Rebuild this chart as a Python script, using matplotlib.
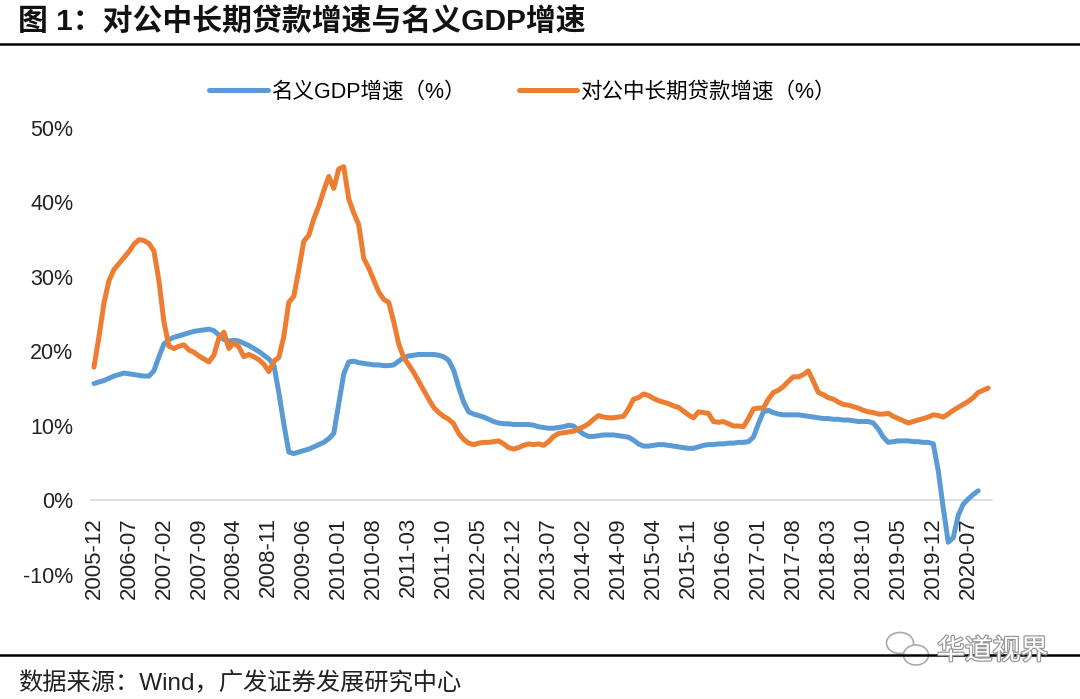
import numpy as np
import pandas as pd
import matplotlib
matplotlib.use("Agg")
import matplotlib.pyplot as plt
import matplotlib.patheffects as pe
from matplotlib.patches import Ellipse

plt.rcParams['font.family'] = ['Liberation Sans', 'Noto Sans CJK SC', 'DejaVu Sans']

# monthly, from 2005-12
months = pd.period_range('2005-12', '2020-11', freq='M').strftime('%Y-%m').tolist()

# 名义GDP增速 (%), 2005-12 .. 2020-09
gdp = [15.7, 15.9, 16.1, 16.4, 16.7, 16.9, 17.1, 17.0, 16.9, 16.8, 16.7, 16.7,
       17.4, 19.3, 21.0, 21.6, 21.9, 22.1, 22.3, 22.5, 22.7, 22.8, 22.9, 23.0,
       22.8, 22.2, 21.6, 21.4, 21.5, 21.4, 21.1, 20.8, 20.4, 20.0, 19.5, 19.0,
       18.2, 14.5, 10.3, 6.5, 6.3, 6.5, 6.7, 6.9, 7.2, 7.5, 7.8, 8.3,
       9.0, 13.0, 17.0, 18.6, 18.7, 18.5, 18.4, 18.3, 18.2, 18.2, 18.1, 18.1,
       18.2, 18.7, 19.2, 19.4, 19.5, 19.6, 19.6, 19.6, 19.6, 19.5, 19.3, 18.8,
       17.5, 15.2, 13.2, 11.9, 11.6, 11.4, 11.2, 10.9, 10.6, 10.4, 10.3, 10.3,
       10.2, 10.2, 10.2, 10.2, 10.1, 9.9, 9.8, 9.7, 9.7, 9.8, 9.9, 10.1,
       10.0, 9.4, 8.9, 8.6, 8.6, 8.7, 8.8, 8.8, 8.8, 8.7, 8.6, 8.5,
       8.1, 7.6, 7.3, 7.3, 7.4, 7.5, 7.5, 7.4, 7.3, 7.2, 7.1, 7.0,
       7.0, 7.2, 7.4, 7.5, 7.5, 7.6, 7.6, 7.7, 7.7, 7.8, 7.8, 7.9,
       8.5, 10.3, 11.9, 12.1, 11.8, 11.6, 11.5, 11.5, 11.5, 11.5, 11.4, 11.3,
       11.2, 11.1, 11.0, 11.0, 10.9, 10.9, 10.8, 10.8, 10.7, 10.6, 10.6, 10.6,
       10.4, 9.6, 8.5, 7.8, 7.9, 8.0, 8.0, 8.0, 7.9, 7.9, 7.8, 7.8,
       7.6, 4.0, -1.0, -5.6, -5.0, -2.0, -0.5, 0.2, 0.8, 1.3]

# 对公中长期贷款增速 (%), 2005-12 .. 2020-11
loan = [17.9, 22.0, 26.5, 29.5, 31.0, 31.8, 32.6, 33.4, 34.4, 35.0, 34.9, 34.5,
        33.5, 29.5, 24.0, 20.7, 20.4, 20.7, 20.9, 20.2, 19.9, 19.4, 19.0, 18.6,
        19.5, 21.8, 22.6, 20.4, 21.2, 20.6, 19.3, 19.6, 19.3, 18.9, 18.3, 17.3,
        18.7, 19.2, 22.0, 26.6, 27.4, 31.0, 34.8, 35.6, 37.8, 39.5, 41.6, 43.5,
        41.9, 44.5, 44.8, 40.5, 38.6, 37.0, 32.5, 31.2, 29.6, 28.0, 27.0, 26.6,
        24.0, 21.0, 19.2, 18.2, 17.2, 16.0, 14.8, 13.6, 12.5, 11.8, 11.3, 10.9,
        10.3, 9.0, 8.2, 7.7, 7.5, 7.7, 7.8, 7.8, 7.9, 8.0, 7.6, 7.1,
        6.9, 7.1, 7.4, 7.6, 7.5, 7.6, 7.4, 7.9, 8.6, 9.0, 9.1, 9.2,
        9.3, 9.6, 9.9, 10.3, 10.9, 11.4, 11.2, 11.1, 11.1, 11.2, 11.3, 12.3,
        13.6, 13.8, 14.3, 14.1, 13.7, 13.4, 13.2, 13.0, 12.7, 12.5, 12.0, 11.5,
        11.1, 11.9, 11.8, 11.7, 10.6, 10.5, 10.6, 10.3, 10.0, 10.0, 9.9, 11.0,
        12.3, 12.4, 12.4, 13.6, 14.5, 14.8, 15.3, 16.0, 16.6, 16.6, 16.9, 17.4,
        16.0, 14.5, 14.2, 13.8, 13.6, 13.2, 12.9, 12.8, 12.6, 12.4, 12.1, 11.9,
        11.8, 11.6, 11.6, 11.7, 11.3, 11.0, 10.7, 10.4, 10.6, 10.8, 11.0, 11.2,
        11.5, 11.4, 11.2, 11.6, 12.1, 12.5, 12.9, 13.3, 13.8, 14.5, 14.8, 15.1]

tick_labels = ['2005-12', '2006-07', '2007-02', '2007-09', '2008-04', '2008-11',
               '2009-06', '2010-01', '2010-08', '2011-03', '2011-10', '2012-05',
               '2012-12', '2013-07', '2014-02', '2014-09', '2015-04', '2015-11',
               '2016-06', '2017-01', '2017-08', '2018-03', '2018-10', '2019-05',
               '2019-12', '2020-07']
y_ticks = [-10, 0, 10, 20, 30, 40, 50]

blue = '#5B9BD5'
orange = '#ED7D31'

fig = plt.figure(figsize=(10.8, 6.99), dpi=100)
ax = fig.add_axes([0.0847, 0.1774, 0.834, 0.6395])

# axis line sits at 0, labels hang from it (set before ticks: it resets them)
for s in ['top', 'right', 'left']:
    ax.spines[s].set_visible(False)
ax.spines['bottom'].set_position(('data', 0))
ax.spines['bottom'].set_color('#D9D9D9')
ax.spines['bottom'].set_linewidth(1.2)
ax.spines['bottom'].set_zorder(1)

l1, = ax.plot(np.arange(len(gdp)), gdp, color=blue, lw=3.6, solid_capstyle='round',
              solid_joinstyle='round', label='名义GDP增速（%）', zorder=3)
l2, = ax.plot(np.arange(len(loan)), loan, color=orange, lw=3.6, solid_capstyle='round',
              solid_joinstyle='round', label='对公中长期贷款增速（%）', zorder=4)

ax.set_xlim(-0.5, 179.8)
ax.set_ylim(-10, 50)
ax.set_yticks(y_ticks)
ax.set_yticklabels(['%d%%' % v for v in y_ticks])
ax.set_xticks([months.index(t) for t in tick_labels])
ax.set_xticklabels(tick_labels)
ax.tick_params(axis='both', length=0, labelcolor='#222222')
ax.tick_params(axis='y', pad=13, labelsize=15.5)
ax.tick_params(axis='x', pad=12, labelsize=16, labelrotation=90)

fig.legend(handles=[l1, l2], loc='center', bbox_to_anchor=(0.484, 0.868), ncol=2,
           frameon=False, fontsize=15.5, handlelength=2.7, handletextpad=0.15,
           columnspacing=2.5)

# title and rules
fig.text(0.017, 0.97, '图 1：对公中长期贷款增速与名义GDP增速', fontsize=21.5,
         fontweight='bold', ha='left', va='center', color='#111111')
fig.add_artist(plt.Line2D([0, 1], [1 - 43.5 / 699, 1 - 43.5 / 699], color='black', lw=1.8))
fig.add_artist(plt.Line2D([0, 1], [1 - 655 / 699, 1 - 655 / 699], color='black', lw=1.8))

fig.text(0.017, 1 - 683 / 699, '数据来源：Wind，广发证券发展研究中心', fontsize=17.5,
         ha='left', va='center', color='#222222')

# watermark
for cx, cy, w, h in [(900, 643, 27, 21), (916, 655, 25, 20)]:
    fig.add_artist(Ellipse((cx / 1080, 1 - cy / 699), w / 1080, h / 699, facecolor='white',
                           edgecolor='#aaaaaa', lw=1.2))
wm = fig.text(937 / 1080, 1 - 652 / 699, '华道视界', fontsize=20, ha='left', va='center',
              color='white')
wm.set_path_effects([pe.Stroke(linewidth=1.8, foreground='#999999'), pe.Normal()])

fig.savefig('out.png', dpi=100)
